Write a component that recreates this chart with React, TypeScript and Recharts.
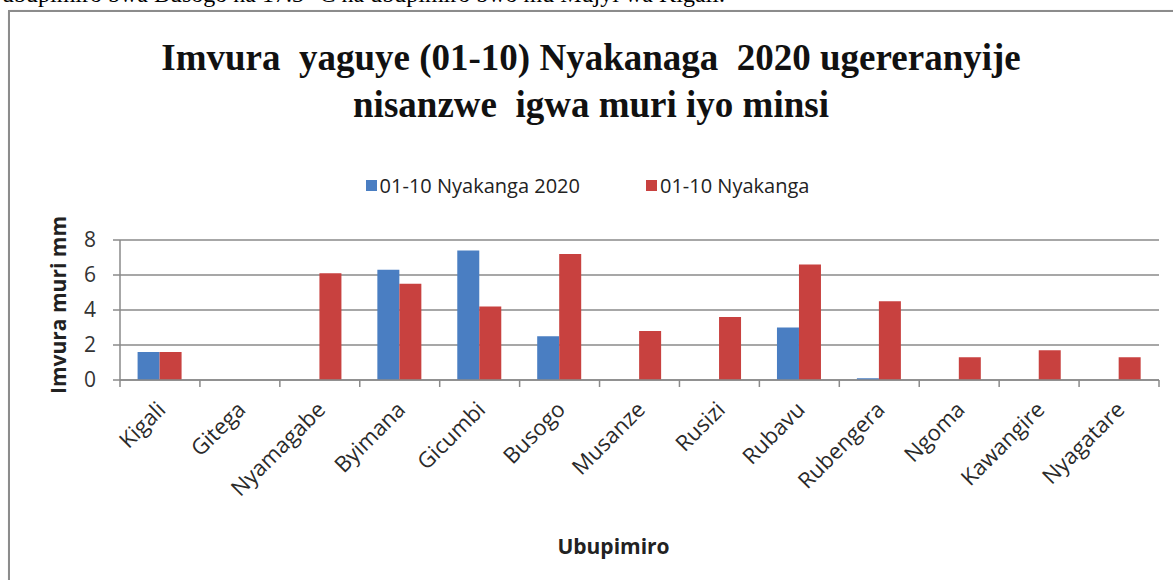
import React from "react";
import { BarChart, Bar, XAxis, YAxis, CartesianGrid, Legend } from "recharts";

const stations = [
  "Kigali", "Gitega", "Nyamagabe", "Byimana", "Gicumbi", "Busogo", "Musanze",
  "Rusizi", "Rubavu", "Rubengera", "Ngoma", "Kawangire", "Nyagatare",
];
const rain2020 = [1.6, 0, 0, 6.3, 7.4, 2.5, 0, 0, 3.0, 0.1, 0, 0, 0];
const rainNormal = [1.6, 0, 6.1, 5.5, 4.2, 7.2, 2.8, 3.6, 6.6, 4.5, 1.3, 1.7, 1.3];
const yTicks = [0, 2, 4, 6, 8];

const series = [
  { key: "y2020", name: "01-10 Nyakanga 2020", color: "#4A7EC2" },
  { key: "normal", name: "01-10 Nyakanga", color: "#C8413F" },
];

const data = stations.map((s, i) => ({ name: s, y2020: rain2020[i], normal: rainNormal[i] }));

const W = 1173;
const H = 580;
const PLOT_LEFT = 120;
const PLOT_RIGHT = 1159;
const PLOT_TOP = 213;
const PLOT_BOTTOM = 380;
const band = (PLOT_RIGHT - PLOT_LEFT) / stations.length;
const grid = "#8a8a8a";
const sans = "'Open Sans', 'Liberation Sans', sans-serif";

function CategoryTick(props: any) {
  const { x, payload, index } = props;
  const ax = x + 7;
  const ay = PLOT_BOTTOM + 31;
  return (
    <g>
      <line x1={x - band / 2} y1={PLOT_BOTTOM} x2={x - band / 2} y2={PLOT_BOTTOM + 7} stroke={grid} strokeWidth={1.5} />
      {index === stations.length - 1 && (
        <line x1={x + band / 2} y1={PLOT_BOTTOM} x2={x + band / 2} y2={PLOT_BOTTOM + 7} stroke={grid} strokeWidth={1.5} />
      )}
      <text x={ax} y={ay} transform={`rotate(-45 ${ax} ${ay})`} textAnchor="end" fontSize={22} fill="#2a2a2a" fontFamily={sans}>
        {payload.value}
      </text>
    </g>
  );
}

function LegendBox() {
  return (
    <div style={{ display: "flex", justifyContent: "center", gap: 66, fontFamily: sans, fontSize: 20, color: "#222" }}>
      {series.map((s) => (
        <div key={s.key} style={{ display: "flex", alignItems: "center" }}>
          <span style={{ display: "inline-block", width: 11, height: 11, background: s.color, marginRight: 3 }} />
          {s.name}
        </div>
      ))}
    </div>
  );
}

export default function App() {
  return (
    <div style={{ position: "absolute", left: 0, top: 0, width: W, height: H, overflow: "hidden", background: "#fff" }}>
      <div style={{ position: "absolute", left: 2, top: -19, fontFamily: "'Liberation Serif', serif", fontSize: 24, whiteSpace: "nowrap", color: "#000" }}>
        ubupimiro bwa Busogo na 17.3 °C na ubupimiro bwo mu Mujyi wa Kigali.
      </div>
      <div style={{ position: "absolute", left: 8, top: 10, width: 1200, height: 700, border: "2px solid #8c8c8c", boxShadow: "1px 1px 2px #bbb", background: "#fff" }} />
      <div style={{ position: "absolute", left: 0, top: 34, width: 1182, textAlign: "center", fontFamily: "'Liberation Serif', serif", fontWeight: "bold", fontSize: 37, lineHeight: "47px", color: "#111" }}>
        Imvura&nbsp; yaguye (01-10) Nyakanaga&nbsp; 2020 ugereranyije
        <br />
        nisanzwe&nbsp; igwa muri iyo minsi
      </div>
      <div style={{ position: "absolute", left: 0, top: 0 }}>
        <BarChart
          width={W}
          height={H}
          data={data}
          margin={{ top: PLOT_TOP, right: W - PLOT_RIGHT, bottom: 100, left: PLOT_LEFT - 40 }}
          barCategoryGap="22%"
          barGap={0}
        >
          <CartesianGrid vertical={false} stroke={grid} strokeWidth={1.5} />
          <XAxis
            dataKey="name"
            height={100}
            interval={0}
            tickLine={false}
            axisLine={{ stroke: grid, strokeWidth: 1.5 }}
            tick={<CategoryTick />}
            label={{ value: "Ubupimiro", position: "insideBottom", offset: -74, dx: -26, fontSize: 21, fontWeight: "bold", fill: "#222", fontFamily: sans }}
          />
          <YAxis
            width={40}
            domain={[0, 8]}
            ticks={yTicks}
            tickSize={7}
            tickMargin={17}
            tickLine={{ stroke: grid, strokeWidth: 1.5 }}
            axisLine={{ stroke: grid, strokeWidth: 1.5 }}
            tick={{ fontSize: 21, fill: "#333", fontFamily: sans }}
            label={{ value: "Imvura muri mm", angle: -90, position: "insideLeft", dx: -26, dy: -5, fontSize: 21, fontWeight: "bold", fill: "#222", fontFamily: sans, style: { textAnchor: "middle" } }}
          />
          <Legend verticalAlign="top" content={<LegendBox />} wrapperStyle={{ top: 172, left: 48 }} />
          {series.map((s) => (
            <Bar key={s.key} dataKey={s.key} name={s.name} fill={s.color} isAnimationActive={false} />
          ))}
        </BarChart>
      </div>
    </div>
  );
}
